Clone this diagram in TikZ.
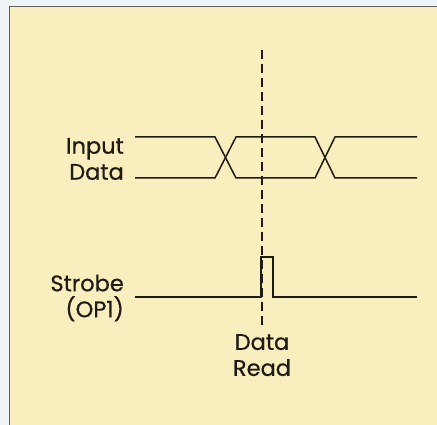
\documentclass[tikz,border=0pt]{standalone}
\usepackage{fontspec}
\setmainfont{Poppins}[FakeBold=0.6]
\definecolor{paper}{HTML}{F8EEBE}
\definecolor{margin}{HTML}{EEF3F6}
\definecolor{ink}{HTML}{1E1A16}
\tikzset{
  wave/.style={ink, line width=1.5pt},
  lbl/.style={inner sep=0pt, font=\fontsize{22.5}{26}\selectfont, text=ink},
  readline/.style={ink, line width=1.3pt, dash pattern=on 9pt off 5pt}
}
\begin{document}
\begin{tikzpicture}[x=1pt, y=-1pt]
  \useasboundingbox (0,0) rectangle (437,425);
  \clip (0,0) rectangle (437,425);
  \fill[margin] (0,0) rectangle (437,425);
  \draw[fill=paper, draw=ink!70, line width=1pt] (9,7) rectangle (445,435);
  % input data
  \draw[wave] (135,137) -- (215,137) -- (236,178) -- (315,178) -- (335,137) -- (417,137);
  \draw[wave] (135,178) -- (215,178) -- (236,137) -- (315,137) -- (335,178) -- (417,178);
  \node[lbl, anchor=east, align=right] (inp) at (124,159) {Input\\Data};
  % strobe
  \draw[wave] (135,297) -- (261,297) -- (261,257) -- (273,257) -- (273,297) -- (417,297);
  \node[lbl, anchor=east, align=right] (stb) at (124,298) {Strobe\\(OP1)};
  % read point
  \coordinate (rtop) at (262,50);
  \coordinate (rbot) at (262,325);
  \draw[readline] (rtop) -- (rbot);
  \node[lbl, anchor=north, align=center] (rd) at (262,334) {Data\\Read};
\end{tikzpicture}
\end{document}
